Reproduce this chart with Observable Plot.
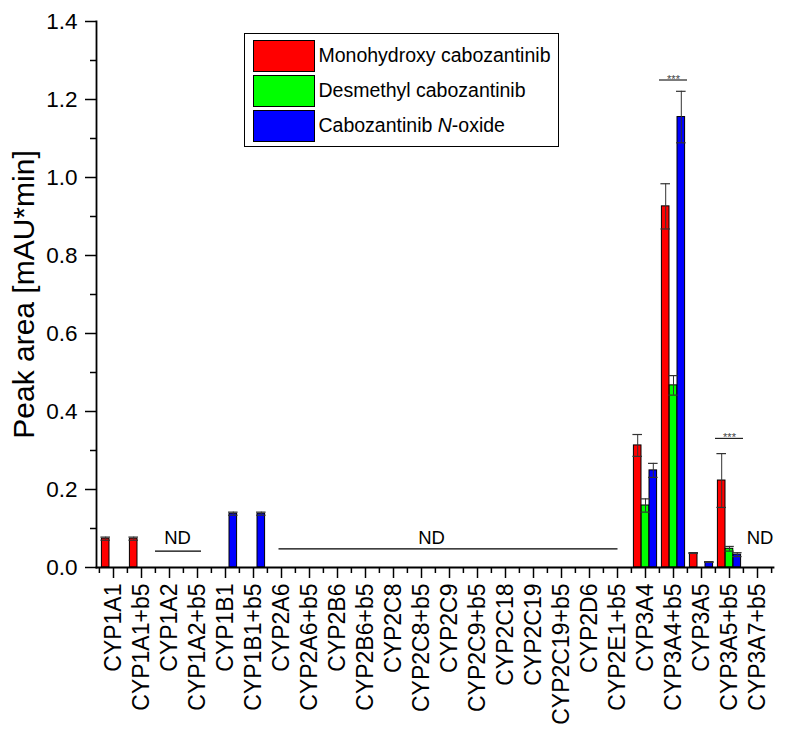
<!DOCTYPE html>
<html>
<head>
<meta charset="utf-8">
<script src="https://cdn.jsdelivr.net/npm/d3@7"></script>
<script src="https://cdn.jsdelivr.net/npm/@observablehq/plot@0.6"></script>
<style>
  body { margin: 0; background: #fff; font-family: "Liberation Sans", Arial, sans-serif; }
  #wrap { position: relative; width: 785px; height: 739px; }
  #legend { position: absolute; left: 244px; top: 33px; width: 313px; height: 112px;
            border: 1.5px solid #000; background: #fff; }
  #legend .row { position: absolute; left: 7.5px; height: 32px; display: flex; align-items: center; }
  #legend .sw { width: 62px; height: 32px; border: 1px solid #000; box-sizing: border-box; margin-right: 4px; }
  #legend .lab { font-size: 19.5px; color: #000; white-space: nowrap; }
</style>
</head>
<body>
<div id="wrap"></div>
<script>
// ---- data ----
const categories = ["CYP1A1","CYP1A1+b5","CYP1A2","CYP1A2+b5","CYP1B1","CYP1B1+b5","CYP2A6","CYP2A6+b5",
  "CYP2B6","CYP2B6+b5","CYP2C8","CYP2C8+b5","CYP2C9","CYP2C9+b5","CYP2C18","CYP2C19","CYP2C19+b5",
  "CYP2D6","CYP2E1+b5","CYP3A4","CYP3A4+b5","CYP3A5","CYP3A5+b5","CYP3A7+b5"];
const seriesNames = ["Monohydroxy cabozantinib","Desmethyl cabozantinib","Cabozantinib N-oxide"];
const seriesColors = ["#ff0000","#00ff00","#0000ff"];
// null = not detected
const monohydroxy    = [0.074,0.074,null,null,null,null,null,null,null,null,null,null,null,null,null,null,null,null,null,0.313,0.926,0.037,0.223,null];
const monohydroxyErr = [0.004,0.004,null,null,null,null,null,null,null,null,null,null,null,null,null,null,null,null,null,0.028,0.058,0.001,0.069,null];
const desmethyl      = [null,null,null,null,null,null,null,null,null,null,null,null,null,null,null,null,null,null,null,0.159,0.467,null,0.048,null];
const desmethylErr   = [null,null,null,null,null,null,null,null,null,null,null,null,null,null,null,null,null,null,null,0.017,0.025,null,0.006,null];
const nOxide         = [null,null,null,null,0.138,0.138,null,null,null,null,null,null,null,null,null,null,null,null,null,0.249,1.155,0.014,0.033,null];
const nOxideErr      = [null,null,null,null,0.004,0.004,null,null,null,null,null,null,null,null,null,null,null,null,null,0.018,0.066,0.001,0.005,null];
const yTicks = [0,0.2,0.4,0.6,0.8,1.0,1.2,1.4];
const yMinorTicks = [0.1,0.3,0.5,0.7,0.9,1.1,1.3];
const yTitle = "Peak area [mAU*min]";
// significance annotations
const sigCats = ["CYP3A4+b5","CYP3A5+b5"];
const sigY = [1.25, 0.331];
const sigText = "***";
// not-detected annotations
const ndFrom = ["CYP1A2","CYP2A6"];
const ndTo = ["CYP1A2+b5","CYP2E1+b5"];
const ndLineY = [0.042, 0.048];
const ndTextCats = ["CYP1A2","CYP2C8+b5","CYP3A7+b5"];
const ndTextY = 0.06;
const ndText = "ND";

// ---- layout ----
const W = 785, H = 739;
const mL = 96, mR = 12, mT = 21, mB = 172;
const bw = (W - mL - mR) / categories.length;
const barW = 7.8;
const offsets = [-barW, 0, barW];
const FONT = "Liberation Sans, Arial, sans-serif";

const valueArrays = [monohydroxy, desmethyl, nOxide];
const errArrays = [monohydroxyErr, desmethylErr, nOxideErr];
const seriesData = valueArrays.map((vals, j) =>
  categories.map((c, i) => ({cat: c, series: seriesNames[j], value: vals[i], err: errArrays[j][i] ?? 0}))
    .filter(d => d.value != null));

const marks = [];
seriesData.forEach((rows, j) => {
  const o = offsets[j];
  const il = bw / 2 + o - barW / 2, ir = bw / 2 - o - barW / 2;
  marks.push(Plot.barY(rows, {x: "cat", y: "value", fill: seriesColors[j], stroke: "#000", strokeWidth: 1,
    insetLeft: il, insetRight: ir}));
});
seriesData.forEach((rows, j) => {
  const o = offsets[j];
  const il = bw / 2 + o - barW / 2 - 1, ir = bw / 2 - o - barW / 2 - 1;
  marks.push(Plot.ruleX(rows, {x: "cat", y1: d => d.value - d.err, y2: d => d.value + d.err, dx: o,
    stroke: "#333", strokeWidth: 1}));
  marks.push(Plot.tickY(rows, {x: "cat", y: d => d.value + d.err, stroke: "#333", strokeWidth: 1.2, insetLeft: il, insetRight: ir}));
  marks.push(Plot.tickY(rows, {x: "cat", y: d => d.value - d.err, stroke: "#333", strokeWidth: 1.2, insetLeft: il, insetRight: ir}));
});
// significance
const sigRows = sigCats.map((c, i) => ({cat: c, y: sigY[i]}));
marks.push(Plot.ruleY(sigRows, {x1: "cat", x2: "cat", y: "y", stroke: "#222", strokeWidth: 1.2}));
marks.push(Plot.text(sigRows, {x: "cat", y: "y", text: () => sigText, fontSize: 11, fill: "#444", lineAnchor: "bottom", dy: 3}));
// ND lines
const ndRows = ndFrom.map((c, i) => ({from: c, to: ndTo[i], y: ndLineY[i]}));
marks.push(Plot.ruleY([ndRows[0]], {x1: "from", x2: "to", y: "y", stroke: "#000", strokeWidth: 1.3, insetLeft: 0, insetRight: 10}));
marks.push(Plot.ruleY([ndRows[1]], {x1: "from", x2: "to", y: "y", stroke: "#000", strokeWidth: 1.3, insetLeft: 11.5, insetRight: 13.5}));
const ndDx = [8, 10, 2.5];
ndTextCats.forEach((c, i) => {
  marks.push(Plot.text([c], {x: d => d, y: () => ndTextY, text: () => ndText, fontSize: 18.5, fill: "#000", lineAnchor: "bottom", dx: ndDx[i]}));
});
// axes
marks.push(Plot.axisY({ticks: yTicks, tickFormat: d3.format(".1f"), tickSize: 11, tickPadding: 8, fontSize: 22.5,
  label: null, strokeWidth: 1.5}));
marks.push(Plot.axisY({ticks: yMinorTicks, tickFormat: () => "", tickSize: 6, label: null, strokeWidth: 1.5}));
marks.push(Plot.axisX({tickSize: 11, tickPadding: 5, tickRotate: -90, fontSize: 23, label: null, strokeWidth: 1.5}));
marks.push(Plot.axisX({tickSize: 6, tickFormat: () => "", label: null, dx: -bw / 2, strokeWidth: 1.5}));
marks.push(Plot.axisX({ticks: [categories[categories.length - 1]], tickSize: 6, tickFormat: () => "", label: null, dx: bw / 2, strokeWidth: 1.5}));
marks.push(Plot.frame({anchor: "left", stroke: "#000", strokeWidth: 1.8}));
marks.push(Plot.frame({anchor: "bottom", stroke: "#000", strokeWidth: 1.8}));
marks.push(Plot.text([yTitle], {frameAnchor: "left", text: d => d, rotate: -90, textAnchor: "middle", dx: -72, fontSize: 30, fill: "#000"}));

const chart = Plot.plot({
  width: W, height: H,
  marginLeft: mL, marginRight: mR, marginTop: mT, marginBottom: mB,
  style: {fontFamily: FONT, color: "#000", background: "#fff"},
  x: {type: "band", domain: categories, padding: 0, axis: null},
  y: {domain: [0, 1.4], axis: null},
  marks
});
const wrap = document.getElementById("wrap");
wrap.appendChild(chart);

// legend
const legend = document.createElement("div");
legend.id = "legend";
const rowTops = [5.5, 40.5, 75.5];
seriesNames.forEach((name, j) => {
  const row = document.createElement("div");
  row.className = "row";
  row.style.top = rowTops[j] + "px";
  const sw = document.createElement("div");
  sw.className = "sw";
  sw.style.background = seriesColors[j];
  const lab = document.createElement("span");
  lab.className = "lab";
  if (name.includes("N-oxide")) {
    lab.innerHTML = name.replace("N-oxide", "<i>N</i>-oxide");
  } else {
    lab.textContent = name;
  }
  row.appendChild(sw);
  row.appendChild(lab);
  legend.appendChild(row);
});
wrap.appendChild(legend);
</script>
</body>
</html>
